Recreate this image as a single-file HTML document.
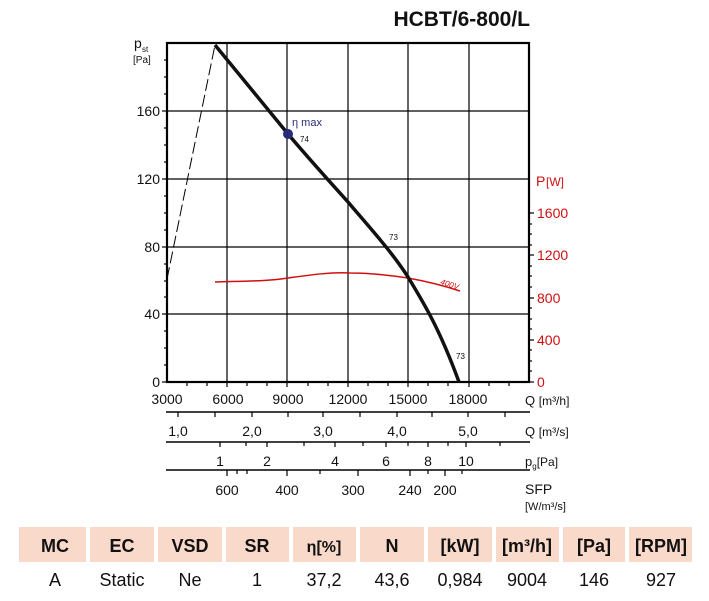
<!DOCTYPE html>
<html><head><meta charset="utf-8"><style>
body{margin:0;background:#fff;width:709px;height:596px;overflow:hidden;font-family:"Liberation Sans",sans-serif;}
</style></head><body>
<svg width="709" height="596" xmlns="http://www.w3.org/2000/svg" font-family="Liberation Sans, sans-serif">
<text x="530" y="26" font-size="21" font-weight="bold" text-anchor="end" fill="#111">HCBT/6-800/L</text>
<!-- grid -->
<g stroke="#000" stroke-width="1.2">
<line x1="227" y1="43" x2="227" y2="382"/><line x1="287" y1="43" x2="287" y2="382"/>
<line x1="348" y1="43" x2="348" y2="382"/><line x1="408" y1="43" x2="408" y2="382"/>
<line x1="469" y1="43" x2="469" y2="382"/>
<line x1="167" y1="111" x2="529" y2="111"/><line x1="167" y1="179" x2="529" y2="179"/>
<line x1="167" y1="247" x2="529" y2="247"/><line x1="167" y1="314" x2="529" y2="314"/>
</g>
<rect x="167" y="43" width="362" height="339" fill="none" stroke="#000" stroke-width="2.2"/>
<!-- left ticks -->
<g stroke="#000" stroke-width="1.2">
<line x1="162" y1="382" x2="167" y2="382"/><line x1="162" y1="314" x2="167" y2="314"/><line x1="162" y1="247" x2="167" y2="247"/><line x1="162" y1="179" x2="167" y2="179"/><line x1="162" y1="111" x2="167" y2="111"/>
<line x1="164" y1="365" x2="167" y2="365"/><line x1="164" y1="348" x2="167" y2="348"/><line x1="164" y1="331" x2="167" y2="331"/>
<line x1="164" y1="297" x2="167" y2="297"/><line x1="164" y1="281" x2="167" y2="281"/><line x1="164" y1="264" x2="167" y2="264"/>
<line x1="164" y1="230" x2="167" y2="230"/><line x1="164" y1="213" x2="167" y2="213"/><line x1="164" y1="196" x2="167" y2="196"/>
<line x1="164" y1="162" x2="167" y2="162"/><line x1="164" y1="145" x2="167" y2="145"/><line x1="164" y1="128" x2="167" y2="128"/>
<line x1="164" y1="94" x2="167" y2="94"/><line x1="164" y1="77" x2="167" y2="77"/><line x1="164" y1="60" x2="167" y2="60"/>
<!-- right ticks -->
<line x1="529" y1="382" x2="534" y2="382"/><line x1="529" y1="340" x2="534" y2="340"/><line x1="529" y1="298" x2="534" y2="298"/><line x1="529" y1="255" x2="534" y2="255"/><line x1="529" y1="213" x2="534" y2="213"/>
<line x1="529" y1="371" x2="532" y2="371"/><line x1="529" y1="361" x2="532" y2="361"/><line x1="529" y1="350" x2="532" y2="350"/>
<line x1="529" y1="329" x2="532" y2="329"/><line x1="529" y1="319" x2="532" y2="319"/><line x1="529" y1="308" x2="532" y2="308"/>
<line x1="529" y1="287" x2="532" y2="287"/><line x1="529" y1="276" x2="532" y2="276"/><line x1="529" y1="266" x2="532" y2="266"/>
<line x1="529" y1="245" x2="532" y2="245"/><line x1="529" y1="234" x2="532" y2="234"/><line x1="529" y1="224" x2="532" y2="224"/>
<!-- bottom ticks -->
<line x1="187" y1="382" x2="187" y2="386"/><line x1="207" y1="382" x2="207" y2="386"/><line x1="227" y1="382" x2="227" y2="387"/>
<line x1="247" y1="382" x2="247" y2="386"/><line x1="267" y1="382" x2="267" y2="386"/><line x1="287" y1="382" x2="287" y2="387"/>
<line x1="308" y1="382" x2="308" y2="386"/><line x1="328" y1="382" x2="328" y2="386"/><line x1="348" y1="382" x2="348" y2="387"/>
<line x1="368" y1="382" x2="368" y2="386"/><line x1="388" y1="382" x2="388" y2="386"/><line x1="408" y1="382" x2="408" y2="387"/>
<line x1="428" y1="382" x2="428" y2="386"/><line x1="448" y1="382" x2="448" y2="386"/><line x1="469" y1="382" x2="469" y2="387"/>
<line x1="489" y1="382" x2="489" y2="386"/><line x1="509" y1="382" x2="509" y2="386"/>
</g>
<g font-size="14" fill="#111" text-anchor="end">
<text x="160" y="387">0</text><text x="160" y="319">40</text><text x="160" y="252">80</text><text x="160" y="184">120</text><text x="160" y="116">160</text>
</g>
<text x="134" y="48" font-size="14" fill="#111">p</text><text x="142" y="52" font-size="8" fill="#111">st</text>
<text x="133" y="63" font-size="10" fill="#111">[Pa]</text>
<g font-size="14" fill="#d01010">
<text x="537" y="387">0</text><text x="537" y="345">400</text><text x="537" y="303">800</text><text x="537" y="260">1200</text><text x="537" y="218">1600</text>
<text x="536" y="186" font-size="14">P</text><text x="546" y="186" font-size="12">[W]</text>
</g>
<!-- curves -->
<path d="M167,279 L215,45" stroke="#000" stroke-width="1" stroke-dasharray="12,4" fill="none"/>
<path d="M215,282 C250,281 270,281 288,278 C310,275 330,272 350,273 C375,273 395,276 408,278 C430,282 445,286 460,291" stroke="#d01010" stroke-width="1.5" fill="none"/>
<path d="M215,45 L288,134 C310,160 330,182 348,202 C370,228 392,252 408,277 C425,305 440,330 459,382" stroke="#111" stroke-width="3.5" fill="none"/>
<circle cx="288" cy="134" r="5" fill="#2a2a7a"/>
<text x="292" y="126" font-size="11" fill="#2a2a7a">η max</text>
<text x="300" y="142" font-size="8" fill="#111">74</text>
<text x="389" y="240" font-size="8" fill="#111">73</text>
<text x="456" y="359" font-size="8" fill="#111">73</text>
<text x="440" y="284" font-size="8" fill="#d01010" font-style="italic" transform="rotate(18 440 284)">400V</text>
<!-- x labels -->
<g font-size="14" fill="#111" text-anchor="middle">
<text x="167" y="404">3000</text><text x="228" y="404">6000</text><text x="288" y="404">9000</text><text x="348" y="404">12000</text><text x="408" y="404">15000</text><text x="468" y="404">18000</text>
<text x="178" y="436">1,0</text><text x="252" y="436">2,0</text><text x="323" y="436">3,0</text><text x="397" y="436">4,0</text><text x="468" y="436">5,0</text>
<text x="220" y="466">1</text><text x="267" y="466">2</text><text x="335" y="466">4</text><text x="386" y="466">6</text><text x="428" y="466">8</text><text x="466" y="466">10</text>
<text x="227" y="495">600</text><text x="287" y="495">400</text><text x="353" y="495">300</text><text x="410" y="495">240</text><text x="445" y="495">200</text>
</g>
<g fill="#111">
<text x="525" y="405" font-size="13">Q <tspan font-size="12">[m³/h]</tspan></text>
<text x="525" y="436" font-size="13">Q <tspan font-size="12">[m³/s]</tspan></text>
<text x="525" y="466" font-size="13">p<tspan font-size="8" dy="3">g</tspan><tspan font-size="12" dy="-3">[Pa]</tspan></text>
<text x="525" y="494" font-size="14">SFP</text>
<text x="525" y="510" font-size="11">[W/m³/s]</text>
</g>
<g stroke="#000" stroke-width="1.5">
<line x1="166" y1="412" x2="530" y2="412"/><line x1="166" y1="442" x2="530" y2="442"/><line x1="166" y1="470" x2="530" y2="470"/>
</g>
<g stroke="#000" stroke-width="1.2">
<line x1="178" y1="412" x2="178" y2="417"/><line x1="215" y1="412" x2="215" y2="417"/><line x1="252" y1="412" x2="252" y2="417"/><line x1="288" y1="412" x2="288" y2="417"/><line x1="323" y1="412" x2="323" y2="417"/><line x1="360" y1="412" x2="360" y2="417"/><line x1="397" y1="412" x2="397" y2="417"/><line x1="432" y1="412" x2="432" y2="417"/><line x1="468" y1="412" x2="468" y2="417"/><line x1="505" y1="412" x2="505" y2="417"/>
<line x1="220" y1="442" x2="220" y2="447"/><line x1="246" y1="442" x2="246" y2="446"/><line x1="267" y1="442" x2="267" y2="447"/><line x1="304" y1="442" x2="304" y2="446"/><line x1="335" y1="442" x2="335" y2="447"/><line x1="363" y1="442" x2="363" y2="446"/><line x1="386" y1="442" x2="386" y2="447"/><line x1="408" y1="442" x2="408" y2="446"/><line x1="428" y1="442" x2="428" y2="447"/><line x1="448" y1="442" x2="448" y2="446"/><line x1="466" y1="442" x2="466" y2="447"/><line x1="500" y1="442" x2="500" y2="446"/>
<line x1="227" y1="470" x2="227" y2="476"/><line x1="237" y1="470" x2="237" y2="474"/><line x1="247" y1="470" x2="247" y2="474"/><line x1="287" y1="470" x2="287" y2="476"/><line x1="320" y1="470" x2="320" y2="474"/><line x1="358" y1="470" x2="358" y2="476"/><line x1="410" y1="470" x2="410" y2="476"/><line x1="428" y1="470" x2="428" y2="474"/><line x1="445" y1="470" x2="445" y2="476"/><line x1="462" y1="470" x2="462" y2="474"/>
</g>
<!-- table -->
<g fill="#f9d9c9">
<rect x="19" y="527" width="67" height="35"/><rect x="90" y="527" width="64" height="35"/><rect x="158" y="527" width="64" height="35"/><rect x="226" y="527" width="63" height="35"/><rect x="293" y="527" width="63" height="35"/><rect x="360" y="527" width="64" height="35"/><rect x="428" y="527" width="64" height="35"/><rect x="496" y="527" width="63" height="35"/><rect x="563" y="527" width="62" height="35"/><rect x="629" y="527" width="63" height="35"/>
</g>
<g font-size="18" font-weight="bold" fill="#111" text-anchor="middle">
<text x="55" y="552">MC</text><text x="122" y="552">EC</text><text x="190" y="552">VSD</text><text x="257" y="552">SR</text><text x="324" y="552" font-size="16">η[%]</text><text x="392" y="552">N</text><text x="460" y="552">[kW]</text><text x="527" y="552">[m³/h]</text><text x="594" y="552">[Pa]</text><text x="661" y="552">[RPM]</text>
</g>
<g font-size="18" fill="#111" text-anchor="middle">
<text x="55" y="586">A</text><text x="122" y="586">Static</text><text x="190" y="586">Ne</text><text x="257" y="586">1</text><text x="324" y="586">37,2</text><text x="392" y="586">43,6</text><text x="460" y="586">0,984</text><text x="527" y="586">9004</text><text x="594" y="586">146</text><text x="661" y="586">927</text>
</g>
</svg>
</body></html>
